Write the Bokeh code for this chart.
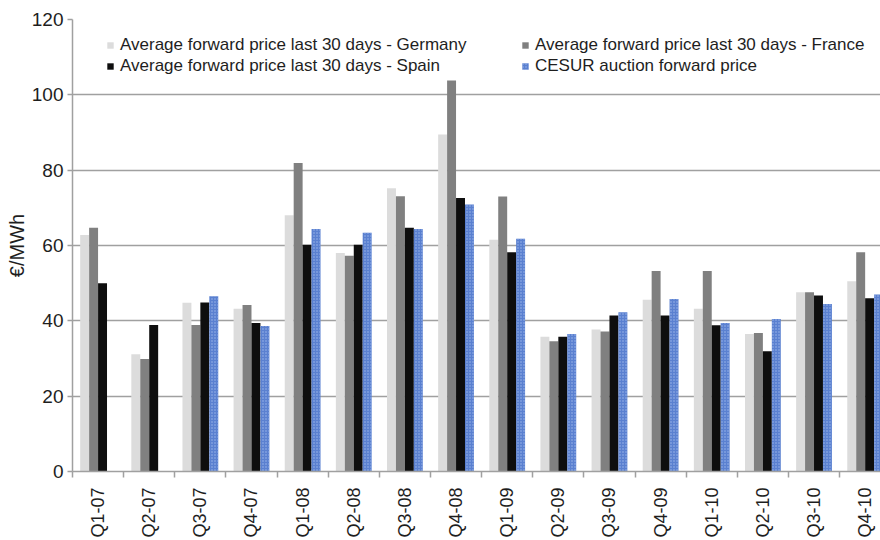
import numpy as np
from bokeh.plotting import figure
from bokeh.models import ColumnDataSource, Range1d, FixedTicker, Legend, LegendItem
from bokeh.transform import dodge
from bokeh.embed import file_html
from bokeh.resources import INLINE

# Quarterly forward prices, EUR/MWh
quarters = ["Q1-07", "Q2-07", "Q3-07", "Q4-07", "Q1-08", "Q2-08", "Q3-08", "Q4-08",
            "Q1-09", "Q2-09", "Q3-09", "Q4-09", "Q1-10", "Q2-10", "Q3-10", "Q4-10"]
germany = [62.8, 31.1, 44.8, 43.2, 68.0, 58.0, 75.2, 89.5,
           61.5, 35.8, 37.7, 45.6, 43.2, 36.5, 47.6, 50.5]
france = [64.7, 29.9, 38.9, 44.2, 81.9, 57.3, 73.1, 103.8,
          73.0, 34.6, 37.2, 53.2, 53.2, 36.8, 47.6, 58.2]
spain = [50.0, 38.9, 44.9, 39.4, 60.2, 60.2, 64.7, 72.6,
         58.2, 35.8, 41.4, 41.4, 38.8, 31.9, 46.7, 46.0]
cesur = [float("nan"), float("nan"), 46.5, 38.6, 64.4, 63.4, 64.4, 70.9,
         61.8, 36.5, 42.3, 45.8, 39.4, 40.5, 44.5, 47.0]
y_ticks = [0, 20, 40, 60, 80, 100, 120]

FONT = "Liberation Sans"
GRID = "#a0a0a0"
TEXT = "#1e1e1e"

centers = np.arange(len(quarters)) + 0.5
src = ColumnDataSource(dict(x=centers, germany=germany, france=france,
                            spain=spain, cesur=cesur))

p = figure(width=880, height=540,
           x_range=Range1d(0, 15.80), y_range=Range1d(0, 120),
           output_backend="svg", toolbar_location=None,
           min_border_left=72, min_border_right=0,
           min_border_top=19, min_border_bottom=69)
p.outline_line_color = None
p.background_fill_color = "white"

bw = 0.175
r_de = p.vbar(x=dodge("x", -1.5 * bw, range=p.x_range), top="germany", width=bw,
              source=src, fill_color="#dcdcdc", line_color=None)
r_fr = p.vbar(x=dodge("x", -0.5 * bw, range=p.x_range), top="france", width=bw,
              source=src, fill_color="#808080", line_color=None)
r_es = p.vbar(x=dodge("x", 0.5 * bw, range=p.x_range), top="spain", width=bw,
              source=src, fill_color="#0e0e0e", line_color=None)
r_ce = p.vbar(x=dodge("x", 1.5 * bw, range=p.x_range), top="cesur", width=bw,
              source=src, fill_color="#5a80d0", line_color=None,
              hatch_pattern="dot", hatch_color="#9fb8ea", hatch_scale=3, hatch_weight=1)

# category axis: labels at the centres, small ticks between categories
xa = p.xaxis[0]
xa.ticker = FixedTicker(ticks=list(centers), minor_ticks=list(range(len(quarters) + 1)))
xa.major_label_overrides = {float(c): q for c, q in zip(centers, quarters)}
xa.major_label_orientation = np.pi / 2
xa.major_tick_out = 0
xa.major_tick_in = 0
xa.minor_tick_out = 6
xa.minor_tick_in = 0
xa.minor_tick_line_color = GRID
xa.minor_tick_line_width = 1.5
xa.axis_line_color = GRID
xa.axis_line_width = 1.5
xa.major_label_standoff = 10
xa.major_label_text_font = FONT
xa.major_label_text_font_size = "18px"
xa.major_label_text_color = TEXT
xa.axis_label_standoff = 0

ya = p.yaxis[0]
ya.ticker = FixedTicker(ticks=y_ticks)
ya.major_tick_out = 5
ya.major_tick_in = 0
ya.minor_tick_out = 0
ya.minor_tick_in = 0
ya.major_tick_line_color = GRID
ya.major_tick_line_width = 1.5
ya.axis_line_color = GRID
ya.axis_line_width = 1.5
ya.major_label_standoff = 4
ya.major_label_text_font = FONT
ya.major_label_text_font_size = "19px"
ya.major_label_text_color = TEXT
ya.axis_label = "€/MWh"
ya.axis_label_text_font = FONT
ya.axis_label_text_font_size = "20px"
ya.axis_label_text_font_style = "normal"
ya.axis_label_text_color = TEXT
ya.axis_label_standoff = 1

p.xgrid.grid_line_color = None
p.ygrid.ticker = FixedTicker(ticks=y_ticks)
p.ygrid.grid_line_color = GRID
p.ygrid.grid_line_width = 1.5


def make_legend(items, loc):
    lg = Legend(items=items, location=loc, orientation="vertical",
                padding=0, margin=0, spacing=0,
                glyph_width=8, glyph_height=8, label_standoff=6, label_height=21,
                label_text_font=FONT, label_text_font_size="17px",
                label_text_color=TEXT,
                border_line_color=None, background_fill_alpha=0)
    return lg


leg_left = make_legend([
    LegendItem(label="Average forward price last 30 days - Germany", renderers=[r_de]),
    LegendItem(label="Average forward price last 30 days - Spain", renderers=[r_es]),
], (34, 395))
leg_right = make_legend([
    LegendItem(label="Average forward price last 30 days - France", renderers=[r_fr]),
    LegendItem(label="CESUR auction forward price", renderers=[r_ce]),
], (449, 395))
p.add_layout(leg_left, "center")
p.add_layout(leg_right, "center")

open("out.html", "w").write(file_html(p, INLINE))
